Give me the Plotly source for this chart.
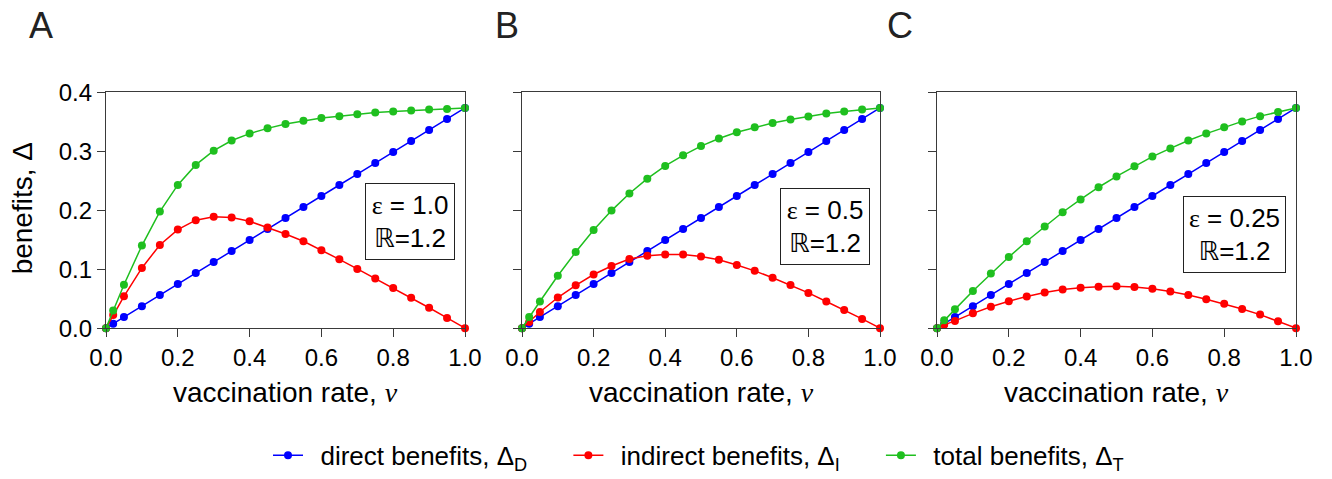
import plotly.graph_objects as go

v = [0, 0.02, 0.05, 0.1, 0.15, 0.2, 0.25, 0.3, 0.35, 0.4, 0.45, 0.5,
     0.55, 0.6, 0.65, 0.7, 0.75, 0.8, 0.85, 0.9, 0.95, 1.0]

direct = [0, 0.0075, 0.0187, 0.0373, 0.056, 0.0746, 0.0933, 0.112, 0.1306, 0.1493, 0.1679,
          0.1866, 0.2053, 0.2239, 0.2426, 0.2612, 0.2799, 0.2986, 0.3172, 0.3359, 0.3545, 0.3732]

indirect_A = [0, 0.0223, 0.054, 0.102, 0.141, 0.167, 0.183, 0.1886, 0.1875, 0.181, 0.1707,
              0.1596, 0.1473, 0.1322, 0.1166, 0.1004, 0.0842, 0.068, 0.0513, 0.0346, 0.0173, 0]
total_A = [0, 0.030, 0.0736, 0.140, 0.1975, 0.2427, 0.2767, 0.3007, 0.318, 0.3297, 0.3386,
           0.3459, 0.3515, 0.356, 0.3593, 0.3626, 0.3654, 0.3671, 0.3688, 0.3704, 0.3716, 0.3732]

indirect_B = [0, 0.0106, 0.0273, 0.0519, 0.0725, 0.0909, 0.1054, 0.1172, 0.1227, 0.125, 0.125,
              0.1216, 0.116, 0.1071, 0.0971, 0.0854, 0.0731, 0.0597, 0.0452, 0.0307, 0.0156, 0]
total_B = [0, 0.019, 0.0452, 0.0887, 0.1289, 0.1662, 0.1992, 0.2282, 0.2533, 0.275, 0.2929,
           0.3085, 0.3213, 0.3319, 0.3403, 0.3476, 0.3537, 0.3587, 0.3637, 0.3671, 0.3704, 0.3732]

indirect_C = [0, 0.0056, 0.0123, 0.0251, 0.0363, 0.0457, 0.0536, 0.0603, 0.0653, 0.0686, 0.0703,
              0.0709, 0.0697, 0.0669, 0.0619, 0.0563, 0.0491, 0.0413, 0.0324, 0.0229, 0.0117, 0]
total_C = [0, 0.0134, 0.0318, 0.063, 0.0926, 0.1205, 0.1473, 0.1724, 0.1964, 0.2181, 0.2388,
           0.2572, 0.2745, 0.2907, 0.3046, 0.318, 0.3297, 0.3403, 0.3504, 0.3593, 0.3665, 0.3732]

panel_labels = ["A", "B", "C"]
eps_labels = ["1.0", "0.5", "0.25"]
R_label = "1.2"
series_names = ["direct benefits, Δ<sub>D</sub>", "indirect benefits, Δ<sub>I</sub>",
                "total benefits, Δ<sub>T</sub>"]
x_ticks = [0, 0.2, 0.4, 0.6, 0.8, 1.0]
y_ticks = [0, 0.1, 0.2, 0.3, 0.4]

FONT = "Liberation Sans, Arial, sans-serif"
colors = ["#0000FF", "#FF0000", "#1FBF1F"]
W, H = 1332, 479
NB = "\u00a0"

x_domains = [[106 / W, 465 / W], [522 / W, 880 / W], [937 / W, 1296 / W]]
y_domain = [1 - 332.3 / H, 1 - 93.3 / H]

fig = go.Figure()
panels = [(indirect_A, total_A), (indirect_B, total_B), (indirect_C, total_C)]
for i, (ind, tot) in enumerate(panels):
    xa = "x" if i == 0 else f"x{i+1}"
    ya = "y" if i == 0 else f"y{i+1}"
    for j, ys in enumerate([direct, ind, tot]):
        fig.add_trace(go.Scatter(
            x=v, y=ys, mode="lines+markers", xaxis=xa, yaxis=ya,
            name=NB + "\u2009" + series_names[j] + NB * 5, legendgroup=str(j), showlegend=(i == 0),
            line=dict(color=colors[j], width=1.5),
            marker=dict(color=colors[j], size=8),
            cliponaxis=False,
        ))

axis_common = dict(
    showline=True, linecolor="#3a3a3a", linewidth=1.3, mirror=True,
    ticks="outside", ticklen=8, tickwidth=1.3, tickcolor="#3a3a3a",
    showgrid=False, zeroline=False, automargin=False,
    tickfont=dict(family=FONT, size=24, color="black"),
)
layout = dict(
    width=W, height=H, plot_bgcolor="white", paper_bgcolor="white",
    margin=dict(l=0, r=0, t=0, b=0),
    font=dict(family=FONT, color="black"),
    legend=dict(orientation="h", x=268 / W, xanchor="left", y=1 - 461 / H, yanchor="middle",
                font=dict(family=FONT, size=26), itemwidth=30, tracegroupgap=0,
                bgcolor="rgba(0,0,0,0)"),
)
for i in range(3):
    sx = "" if i == 0 else str(i + 1)
    layout[f"xaxis{sx}"] = dict(axis_common, domain=x_domains[i], range=[0, 1],
                                tickvals=x_ticks, ticktext=[f"{t:.1f}" for t in x_ticks],
                                anchor=f"y{sx}")
    layout[f"yaxis{sx}"] = dict(axis_common, domain=y_domain, range=[0, 0.4],
                                tickvals=y_ticks, ticktext=[f"{t:.1f}" for t in y_ticks],
                                showticklabels=(i == 0), anchor=f"x{sx}")
fig.update_layout(**layout)

ann = []
letter_x = [41, 507, 900]
box_pos = [(0.847, 0.180, 84), (0.847, 0.1726, 84), (0.829, 0.158, 97)]
for i in range(3):
    sx = "" if i == 0 else str(i + 1)
    ann.append(dict(text=panel_labels[i], x=letter_x[i] / W, y=1 - 26 / H, xref="paper", yref="paper",
                    xanchor="center", yanchor="middle", showarrow=False,
                    font=dict(family=FONT, size=36, color="#222")))
    ann.append(dict(text="vaccination rate, <span style='font-family:Liberation Serif'><i>v</i></span>",
                    x=sum(x_domains[i]) / 2, y=1 - 397 / H, xref="paper", yref="paper",
                    xanchor="center", yanchor="middle", showarrow=False,
                    font=dict(family=FONT, size=28, color="black")))
    bx, by, bw = box_pos[i]
    ann.append(dict(
        text=f"<span style='font-family:Liberation Serif'>ε</span> = {eps_labels[i]}<br>"
             f"<span style='font-family:DejaVu Sans'>ℝ</span>={R_label}",
        x=bx, y=by, xref=f"x{sx}", yref=f"y{sx}", xanchor="center", yanchor="middle",
        showarrow=False, align="center", width=bw, height=71,
        bordercolor="#222", borderwidth=1, borderpad=2, bgcolor="white",
        font=dict(family=FONT, size=26, color="black")))
ann.append(dict(text="benefits, Δ", x=22 / W, y=1 - 211 / H, xref="paper", yref="paper",
                xanchor="center", yanchor="middle", textangle=-90, showarrow=False,
                font=dict(family=FONT, size=28, color="black")))
fig.update_layout(annotations=ann)

fig.write_html("out.html", config={"displayModeBar": False},
               post_script="document.body.style.margin='0';document.body.style.padding='0';")
